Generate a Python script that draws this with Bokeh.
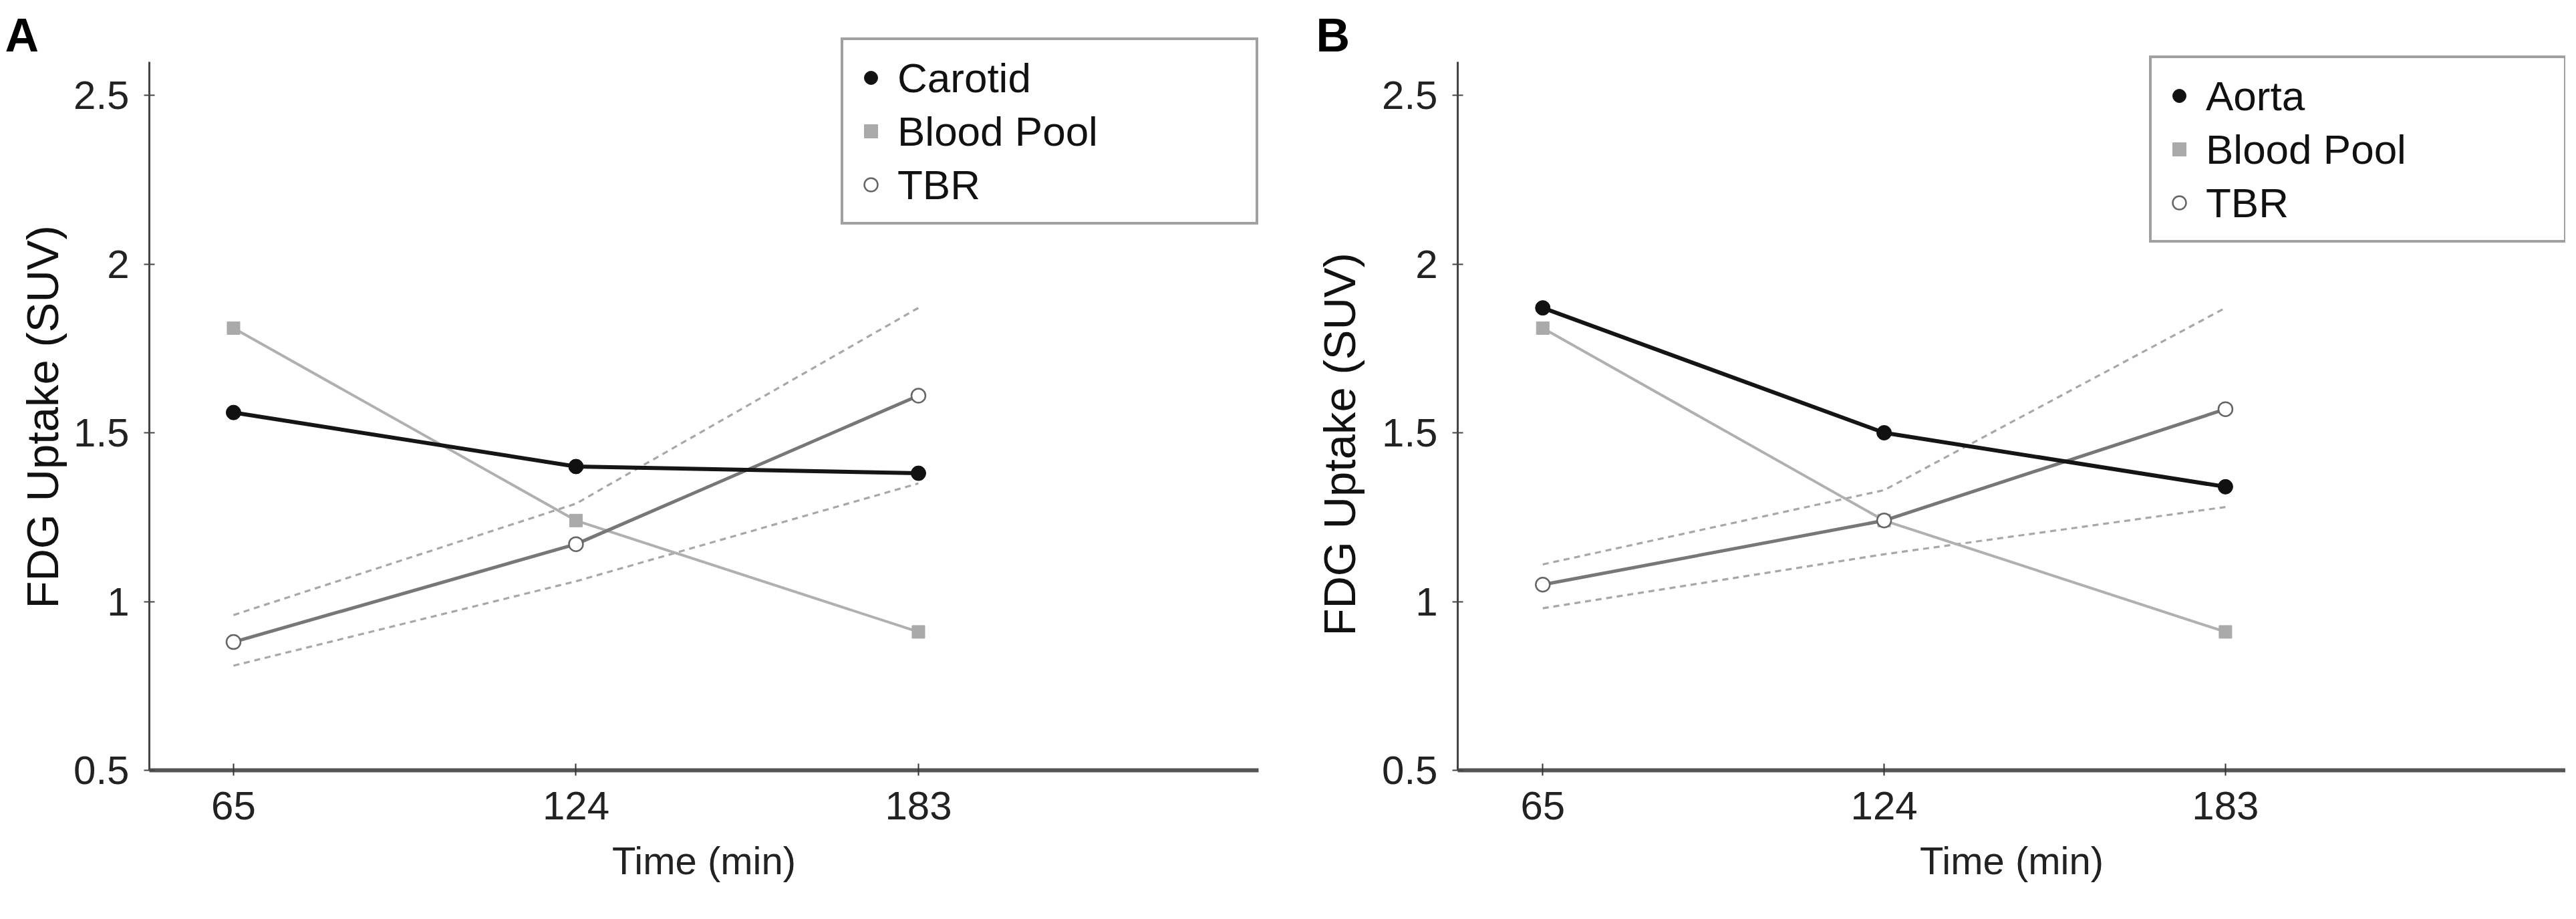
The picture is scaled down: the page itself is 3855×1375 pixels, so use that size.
import math
from bokeh.plotting import figure
from bokeh.models import (Range1d, FixedTicker, NumeralTickFormatter, Legend,
                          LegendItem, Label)
from bokeh.layouts import row
from bokeh.embed import file_html
from bokeh.resources import INLINE

# ---------------- data ----------------
time_min = [65, 124, 183]
x_ticks = [65, 124, 183]
y_ticks = [0.5, 1, 1.5, 2, 2.5]

# Panel A
carotid = [1.56, 1.40, 1.38]
blood_pool_a = [1.81, 1.24, 0.91]
tbr_a = [0.88, 1.17, 1.61]
tbr_a_upper = [0.96, 1.29, 1.87]
tbr_a_lower = [0.81, 1.06, 1.35]

# Panel B
aorta = [1.87, 1.50, 1.34]
blood_pool_b = [1.81, 1.24, 0.91]
tbr_b = [1.05, 1.24, 1.57]
tbr_b_upper = [1.11, 1.33, 1.87]
tbr_b_lower = [0.98, 1.14, 1.28]

FONT = "Liberation Sans"
H = 1350
B_BOTTOM = 198          # common bottom border of every figure in the row
FRAME_H = H - B_BOTTOM
PX_PER_UNIT = 505.0     # vertical scale of the reference
AXIS_BOUNDS = (0.5, 2.6)


def label_strip(width, letter, letter_xy, ylab_x, ylab_start_y):
    """Narrow figure holding the panel letter and the y axis title.
    Data units of this figure equal pixels (y measured from the top)."""
    s = figure(width=width, height=H, output_backend="svg",
               toolbar_location=None, x_axis_type=None, y_axis_type=None,
               x_range=Range1d(0, width), y_range=Range1d(H - FRAME_H, H),
               min_border_left=0, min_border_right=0,
               min_border_top=0, min_border_bottom=B_BOTTOM)
    s.outline_line_color = None
    s.grid.visible = False
    s.add_layout(Label(x=letter_xy[0], y=H - letter_xy[1], text=letter,
                       text_align="left", text_baseline="alphabetic",
                       text_font=FONT, text_font_size="70px",
                       text_font_style="bold", text_color="black"))
    # rotated title, anchored at its first letter (bottom end)
    s.add_layout(Label(x=ylab_x, y=H - ylab_start_y, text="FDG Uptake (SUV)",
                       angle=math.pi / 2, text_align="left",
                       text_baseline="alphabetic", text_font=FONT,
                       text_font_size="67px", text_color="#111111"))
    return s


def make_panel(vessel_name, vessel, blood, tbr, upper, lower,
               width, b_left, b_right, x_range, legend_loc):
    y_top = AXIS_BOUNDS[0] + FRAME_H / PX_PER_UNIT
    p = figure(width=width, height=H, output_backend="svg",
               toolbar_location=None,
               x_range=Range1d(*x_range), y_range=Range1d(AXIS_BOUNDS[0], y_top),
               min_border_left=b_left, min_border_right=b_right,
               min_border_top=0, min_border_bottom=B_BOTTOM)
    p.outline_line_color = None
    p.grid.visible = False
    p.background_fill_color = "white"
    p.border_fill_color = "white"

    # confidence lines (dashed)
    for band in (upper, lower):
        p.line(time_min, band, line_color="#a8a8a8", line_width=3.2,
               line_dash="9 7")
    p.line(time_min, blood, line_color="#b0b0b0", line_width=4)
    p.line(time_min, tbr, line_color="#777777", line_width=5)
    p.line(time_min, vessel, line_color="#151515", line_width=6)

    r_blood = p.scatter(time_min, blood, marker="square", size=19,
                        fill_color="#aaaaaa", line_color="#aaaaaa")
    r_vessel = p.scatter(time_min, vessel, marker="circle", size=22,
                         fill_color="#111111", line_color="#111111")
    r_tbr = p.scatter(time_min, tbr, marker="circle", size=21,
                      fill_color="white", line_color="#666666",
                      line_width=2.5)

    # axes
    xa = p.xaxis[0]
    xa.ticker = FixedTicker(ticks=x_ticks)
    xa.axis_line_width = 6
    xa.axis_line_color = "#555555"
    xa.major_tick_line_color = "#333333"
    xa.major_tick_line_width = 2
    xa.major_tick_in = 10
    xa.major_tick_out = 8
    xa.minor_tick_line_color = None
    xa.major_label_text_font = FONT
    xa.major_label_text_font_size = "60px"
    xa.major_label_text_color = "#222222"
    xa.major_label_standoff = 24
    xa.axis_label = "Time (min)"
    xa.axis_label_text_font = FONT
    xa.axis_label_text_font_size = "58px"
    xa.axis_label_text_font_style = "normal"
    xa.axis_label_text_color = "#222222"
    xa.axis_label_standoff = 26

    ya = p.yaxis[0]
    ya.ticker = FixedTicker(ticks=y_ticks)
    ya.bounds = AXIS_BOUNDS
    ya.formatter = NumeralTickFormatter(format="0.[0]")
    ya.axis_line_width = 3
    ya.axis_line_color = "#444444"
    ya.major_tick_line_color = "#444444"
    ya.major_tick_line_width = 2
    ya.major_tick_in = 8
    ya.major_tick_out = 8
    ya.minor_tick_line_color = None
    ya.major_label_text_font = FONT
    ya.major_label_text_font_size = "60px"
    ya.major_label_text_color = "#222222"
    ya.major_label_standoff = 22

    legend = Legend(items=[LegendItem(label=vessel_name, renderers=[r_vessel]),
                           LegendItem(label="Blood Pool", renderers=[r_blood]),
                           LegendItem(label="TBR", renderers=[r_tbr])],
                    location=legend_loc,
                    label_text_font=FONT, label_text_font_size="62px",
                    label_text_color="#111111",
                    glyph_width=50, glyph_height=80, label_height=80,
                    label_width=520, label_standoff=15, padding=16,
                    spacing=0, border_line_color="#444444",
                    border_line_width=4, background_fill_color="white",
                    background_fill_alpha=1.0)
    p.add_layout(legend)
    return p


# page layout: [labels A][panel A][labels B][panel B]
sA = label_strip(100, "A", (7, 52), 63, 910)
pA = make_panel("Carotid", carotid, blood_pool_a, tbr_a,
                tbr_a_upper, tbr_a_lower,
                width=1822, b_left=123, b_right=39,
                x_range=(50.5, 241.6), legend_loc=(1035, 816))
sB = label_strip(130, "B", (47, 52), 82, 951)
pB = make_panel("Aorta", aorta, blood_pool_b, tbr_b,
                tbr_b_upper, tbr_b_lower,
                width=1787, b_left=129, b_right=0,
                x_range=(50.3, 241.8), legend_loc=(1035, 789))

layout = row(sA, pA, sB, pB)
open("out.html", "w").write(file_html(layout, INLINE))
